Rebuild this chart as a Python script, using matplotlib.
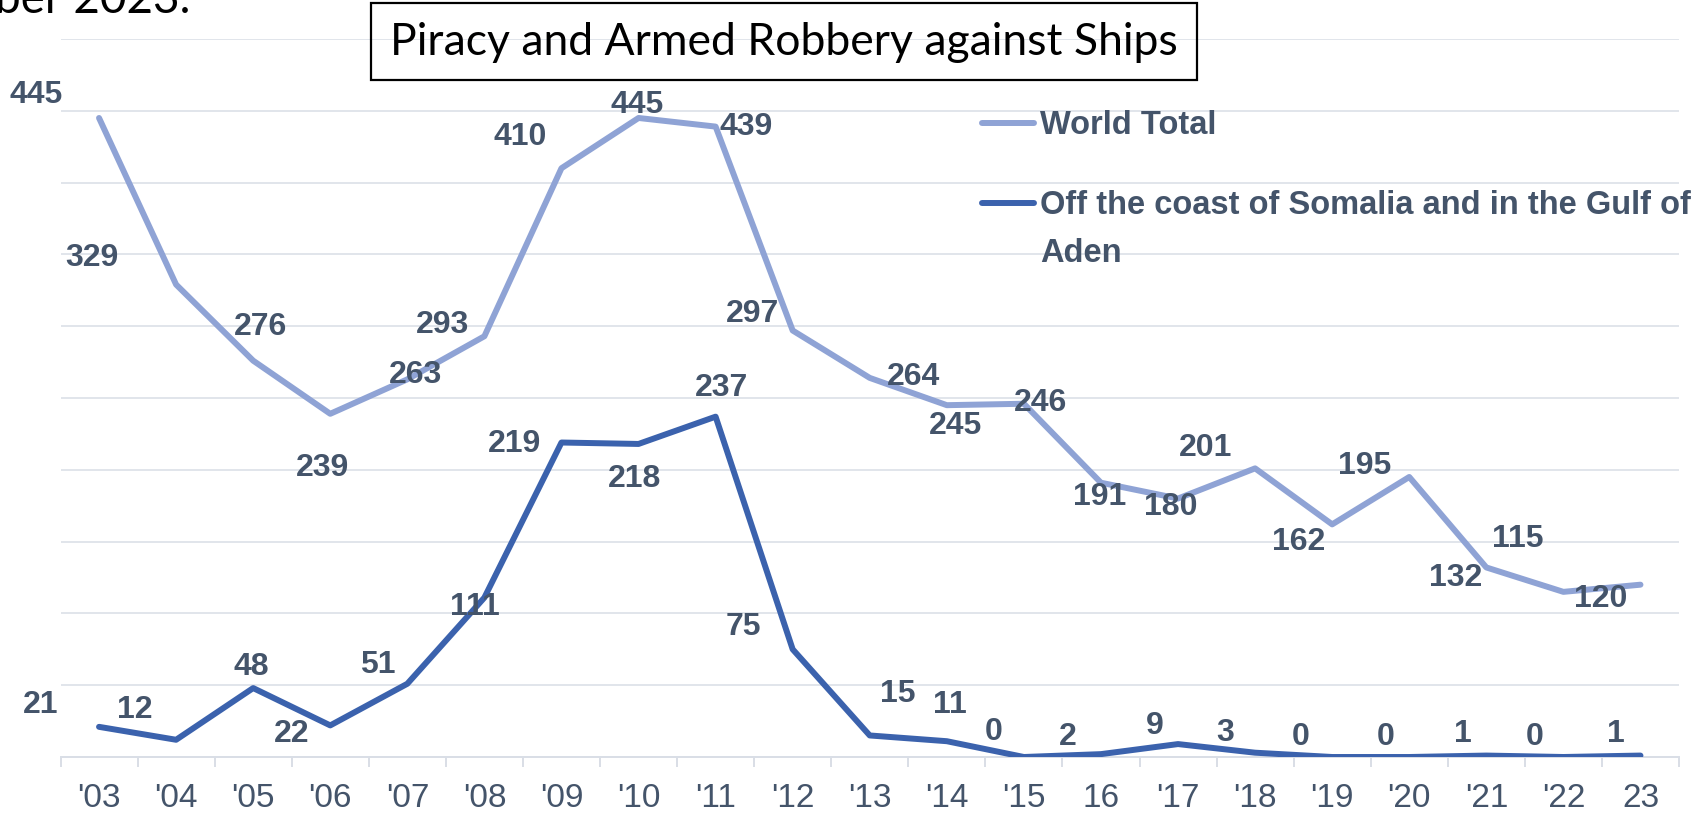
import matplotlib
matplotlib.use("Agg")
import matplotlib.pyplot as plt
from matplotlib.lines import Line2D
from matplotlib.patches import Rectangle

# ---- data ----
years = ["'03", "'04", "'05", "'06", "'07", "'08", "'09", "'10", "'11", "'12",
         "'13", "'14", "'15", "16", "'17", "'18", "'19", "'20", "'21", "'22", "23"]
world_total = [445, 329, 276, 239, 263, 293, 410, 445, 439, 297,
               264, 245, 246, 191, 180, 201, 162, 195, 132, 115, 120]
somalia = [21, 12, 48, 22, 51, 111, 219, 218, 237, 75,
           15, 11, 0, 2, 9, 3, 0, 0, 1, 0, 1]
series_names = ["World Total", "Off the coast of Somalia and in the Gulf of\nAden"]
title = "Piracy and Armed Robbery against Ships"
caption_fragment = "ber 2023."

# label offsets (pixels, dx right, dy up) - styling only
world_off = [(-63, 23), (-84, 27), (7, 34), (-8, -54), (8, 4), (-42, 11), (-41, 31),
             (-1, 13), (31, 0), (-40, 17), (44, 1), (9, -21), (17, 1), (-1, -14),
             (-7, -8), (-50, 20), (-34, -18), (-45, 11), (-31, -11), (-46, 53), (-40, -14)]
som_off = [(-58, 22), (-41, 30), (-2, 21), (-39, -9), (-30, 19), (-10, -9), (-47, -1),
           (-4, -35), (6, 29), (-49, 22), (28, 41), (3, 36), (-30, 25), (-33, 17),
           (-23, 18), (-30, 20), (-31, 20), (-24, 20), (-23, 22), (-29, 20), (-25, 22)]

W, H = 1700, 815
DPI = 100
TEXT = "#44546A"
GRID = "#D9DEE6"
C_WORLD = "#8FA3D5"
C_SOM = "#3B62AD"
BOLD_FAM = ["Liberation Sans", "DejaVu Sans"]
NARROW_FAM = ["Liberation Sans Narrow", "Liberation Sans", "DejaVu Sans"]

fig = plt.figure(figsize=(W / DPI, H / DPI), dpi=DPI)
fig.patch.set_facecolor("white")

left_px, right_px, top_px, bot_px = 60.5, 1679, 39, 757
ax = fig.add_axes([left_px / W, 1 - bot_px / H, (right_px - left_px) / W, (bot_px - top_px) / H])

x = list(range(len(years)))
ax.set_xlim(-0.5, len(years) - 0.5)
ax.set_ylim(0, 500)

ax.set_yticks(range(0, 501, 50))
ax.yaxis.grid(True, color=GRID, lw=1.1)
ax.set_axisbelow(True)
ax.tick_params(axis="y", left=False, labelleft=False)
for s in ["left", "right", "top"]:
    ax.spines[s].set_visible(False)
ax.spines["bottom"].set_color(GRID)
ax.spines["bottom"].set_linewidth(1.4)

ax.set_xticks(x)
ax.set_xticklabels(years, family=NARROW_FAM, fontsize=24, color=TEXT)
ax.tick_params(axis="x", which="major", length=0, pad=19)
ax.set_xticks([i - 0.5 for i in range(len(years) + 1)], minor=True)
ax.tick_params(axis="x", which="minor", length=7.5, width=1.4, color=GRID)

ax.plot(x, world_total, color=C_WORLD, lw=4.3, solid_capstyle="round", solid_joinstyle="round", zorder=3)
ax.plot(x, somalia, color=C_SOM, lw=4.3, solid_capstyle="round", solid_joinstyle="round", zorder=3)

for xi, v, off in zip(x, world_total, world_off):
    ax.annotate(str(v), (xi, v), xytext=off, textcoords="offset pixels",
                ha="center", va="center", family=BOLD_FAM, fontweight="bold",
                fontsize=23, color=TEXT, zorder=4)
for xi, v, off in zip(x, somalia, som_off):
    ax.annotate(str(v), (xi, v), xytext=off, textcoords="offset pixels",
                ha="center", va="center", family=BOLD_FAM, fontweight="bold",
                fontsize=23, color=TEXT, zorder=4)

# legend (manual, figure coords)
def fx(px):
    return px / W

def fy(py):
    return 1 - py / H

for (yy, col, name) in [(123, C_WORLD, series_names[0]), (203, C_SOM, series_names[1])]:
    fig.add_artist(Line2D([fx(982), fx(1034)], [fy(yy), fy(yy)], color=col, lw=4.3,
                          solid_capstyle="round", transform=fig.transFigure))
    for k, line in enumerate(name.split("\n")):
        fig.text(fx(1040), fy(yy + 2 + 49 * k), line, ha="left", va="center",
                 family=BOLD_FAM, fontweight="bold", fontsize=23.5, color=TEXT)

# title box
fig.add_artist(Rectangle((fx(371), fy(80)), fx(1197) - fx(371), fy(3) - fy(80),
                         transform=fig.transFigure, fill=False, edgecolor="black", lw=1.6))
fig.text(fx(784), fy(55), title, ha="center", va="baseline",
         family=["Lato", "DejaVu Sans"], fontsize=32, color="black")

# cut-off caption fragment at top-left (cut in the reference too)
fig.text(fx(190), fy(13), caption_fragment, ha="right", va="baseline",
         family=["Lato", "DejaVu Sans"], fontsize=33, color="black")

fig.savefig("out.png", dpi=DPI, facecolor="white")
